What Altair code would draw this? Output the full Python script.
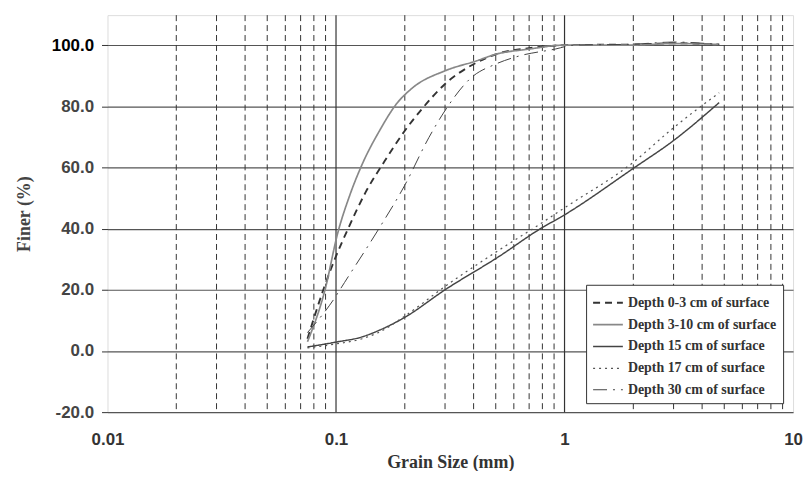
import altair as alt
import pandas as pd

# ---- data ----
series_names = [
    "Depth 0-3 cm of surface",
    "Depth 3-10 cm of surface",
    "Depth 15 cm of surface",
    "Depth 17 cm of surface",
    "Depth 30 cm of surface",
]

d03_x = [0.075, 0.088, 0.1, 0.113, 0.135, 0.163, 0.2, 0.24, 0.3, 0.41, 0.5, 0.7, 0.9, 1.0, 2.0, 3.0, 4.75]
d03_y = [4.0, 20.0, 31.0, 40.0, 52.0, 62.0, 72.0, 79.5, 87.3, 94.2, 97.0, 99.0, 99.8, 100.0, 100.2, 100.6, 100.2]

d310_x = [0.075, 0.0895, 0.1017, 0.115, 0.131, 0.155, 0.184, 0.216, 0.3, 0.41, 0.5, 0.7, 1.0, 2.0, 3.0, 4.75]
d310_y = [3.0, 20.0, 38.5, 51.0, 61.5, 72.0, 80.8, 86.0, 91.6, 94.8, 97.0, 98.7, 100.0, 100.0, 100.5, 100.2]

d15_x = [0.075, 0.1, 0.13, 0.155, 0.2, 0.3, 0.517, 0.77, 1.0, 2.0, 3.0, 4.75]
d15_y = [1.3, 2.9, 4.6, 6.8, 11.0, 20.0, 30.9, 39.6, 44.5, 59.7, 68.8, 81.2]

d17_x = [0.075, 0.1, 0.13, 0.155, 0.2, 0.3, 0.52, 0.77, 1.0, 2.0, 3.0, 4.75]
d17_y = [1.0, 2.3, 4.0, 6.2, 11.4, 21.1, 33.1, 41.2, 46.8, 61.7, 73.0, 84.4]

d30_x = [0.075, 0.1, 0.104, 0.109, 0.155, 0.2, 0.255, 0.3, 0.39, 0.5, 0.63, 0.91, 1.1, 2.0, 3.0, 4.75]
d30_y = [6.0, 18.0, 20.0, 22.4, 40.3, 54.2, 69.8, 78.6, 89.3, 93.8, 96.4, 98.7, 100.0, 100.3, 101.0, 100.2]

x_tick_values = [0.01, 0.1, 1, 10]
y_tick_values = [-20, 0, 20, 40, 60, 80, 100]
minor_grid = [0.02, 0.03, 0.04, 0.05, 0.06, 0.07, 0.08, 0.09,
              0.2, 0.3, 0.4, 0.5, 0.6, 0.7, 0.8, 0.9,
              2, 3, 4, 5, 6, 7, 8, 9]
major_grid = [0.1, 1]

rows = []
for name, xs, ys in zip(series_names,
                        [d03_x, d310_x, d15_x, d17_x, d30_x],
                        [d03_y, d310_y, d15_y, d17_y, d30_y]):
    for i, (a, b) in enumerate(zip(xs, ys)):
        rows.append({"series": name, "size": a, "finer": b, "order": i})
df = pd.DataFrame(rows)

xscale = alt.Scale(type="log", domain=[0.01, 10], nice=False)
yscale = alt.Scale(domain=[-20, 109.8], nice=False, zero=False)

minor = alt.Chart(pd.DataFrame({"g": minor_grid})).mark_rule(
    color="#333", strokeWidth=1, strokeDash=[6, 4]
).encode(x=alt.X("g:Q", scale=xscale))

major = alt.Chart(pd.DataFrame({"g": major_grid})).mark_rule(
    color="#333", strokeWidth=1.2
).encode(x=alt.X("g:Q", scale=xscale))

lines = alt.Chart(df).mark_line(interpolate="monotone").encode(
    x=alt.X("size:Q", scale=xscale,
            axis=alt.Axis(values=x_tick_values, format="~g", title="Grain Size (mm)",
                          grid=False, ticks=False, tickSize=0, domain=False,
                          labelFont="Liberation Sans", labelFontWeight="bold",
                          labelFontSize=17, labelColor="#333", labelPadding=20,
                          labelFlush=False,
                          titleFont="Liberation Serif", titleFontWeight="bold",
                          titleFontSize=18, titleColor="#333", titlePadding=6)),
    y=alt.Y("finer:Q", scale=yscale,
            axis=alt.Axis(values=y_tick_values, title="Finer (%)",
                          labelExpr="(datum.value < 0 ? '-' : '') + format(abs(datum.value), '.1f')",
                          grid=True, gridColor="#555", gridWidth=1.2,
                          ticks=True, tickSize=6, tickColor="#333", domain=False,
                          labelFont="Liberation Sans", labelFontWeight="bold",
                          labelFontSize=17, labelPadding=8,
                          labelColor=alt.condition("datum.value == 100", alt.value("#000"), alt.value("#444")),
                          titleFont="Liberation Serif", titleFontWeight="bold",
                          titleFontSize=18, titleColor="#444", titlePadding=18)),
    color=alt.Color("series:N", title=None,
                    scale=alt.Scale(domain=series_names,
                                    range=["#333", "#888", "#444", "#555", "#444"]),
                    legend=alt.Legend(orient="none", legendX=481, legendY=271,
                                      symbolType="M-1.36,0H1.36", symbolSize=484,
                                      labelFont="Liberation Serif", labelFontWeight="bold",
                                      labelFontSize=14, labelColor="#333",
                                      labelLimit=300, rowPadding=3, padding=6,
                                      symbolOffset=4, labelOffset=8,
                                      strokeColor="#333", fillColor="white")),
    strokeDash=alt.StrokeDash("series:N", title=None,
                              scale=alt.Scale(domain=series_names,
                                              range=[[7, 5], [1, 0], [1, 0], [2, 4], [14, 6, 2, 6]])),
    strokeWidth=alt.StrokeWidth("series:N", title=None,
                                scale=alt.Scale(domain=series_names,
                                                range=[1.9, 1.0, 2.0, 2.6, 1.9])),
    order="order:Q",
)

chart = alt.layer(minor, major, lines).properties(
    width=689, height=399,
    padding={"left": 100, "top": 6, "right": 10, "bottom": 58},
    autosize=alt.AutoSizeParams(type="none"),
).configure_view(stroke="#222", strokeWidth=3).configure(background="white")

chart.save("out.html", embed_options={"renderer": "svg", "actions": False})
